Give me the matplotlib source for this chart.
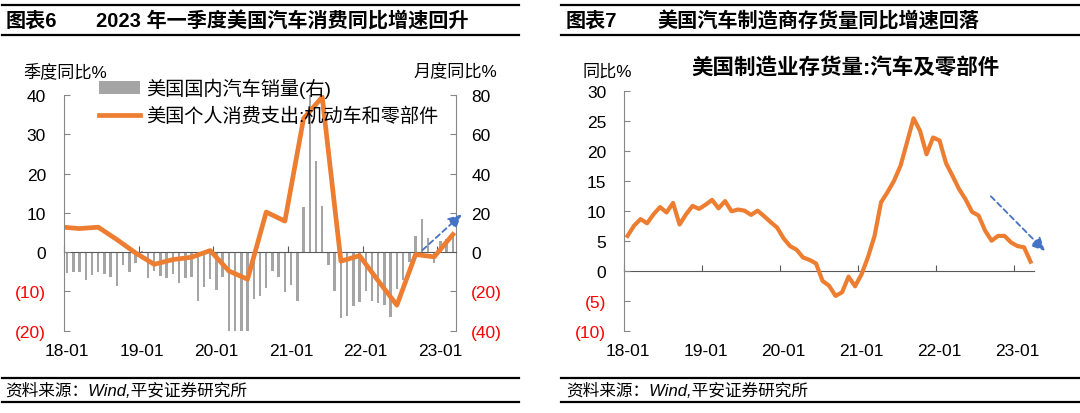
import matplotlib.pyplot as plt
import matplotlib.lines as mlines
import numpy as np
import pandas as pd

plt.rcParams['font.family'] = ['Liberation Sans', 'Noto Sans CJK SC']
plt.rcParams['axes.unicode_minus'] = False

# monthly axis: 2018-01 .. 2023-03
months = pd.period_range('2018-01', '2023-03', freq='M')
month_ticks = ['18-01', '19-01', '20-01', '21-01', '22-01', '23-01']

# 美国国内汽车销量 同比% (right axis, monthly)
auto_sales = [-10.7, -10.3, -10.3, -14.4, -11.5, -10.0, -11.0, -12.8, -17.0, -6.7, -9.9, -5.4,
              0.5, -13.0, -9.6, -12.2, -13.0, -11.3, -15.6, -13.0, -12.5, -24.9, -17.8, -13.9,
              -19.3, -12.7, -45.0, -48.0, -44.0, -42.0, -23.7, -22.5, -18.1, -9.8, -12.6, -20.4,
              -16.7, -24.9, 23.1, 110.0, 46.5, 23.4, -6.5, -19.8, -33.3, -32.5, -27.4, -25.5,
              -20.0, -25.0, -26.0, -27.0, -33.0, -19.0, -14.0, -5.0, 8.1, 16.9, 7.3, -5.5,
              5.8, 6.5, 9.0]

# 美国个人消费支出:机动车和零部件 同比% (left axis, quarterly, 2017Q4 .. 2023Q1)
pce_quarters = pd.period_range('2017Q4', '2023Q1', freq='Q')
pce_auto = [6.4, 6.0, 6.35, 3.2, -0.2, -3.1, -1.9, -1.3, 0.4, -4.8, -6.9,
            10.2, 7.9, 34.0, 39.5, -2.3, -0.9, -7.3, -13.5, -0.6, -1.2, 4.5]

# 美国制造业存货量:汽车及零部件 同比% (monthly)
inventory = [5.8, 7.5, 8.6, 7.9, 9.4, 10.6, 9.7, 11.3, 7.7, 9.4, 10.8, 10.3,
             11.0, 11.8, 10.4, 11.6, 9.9, 10.2, 10.0, 9.3, 10.0, 9.1, 8.1, 7.2,
             5.4, 4.1, 3.5, 2.2, 1.8, 1.2, -1.7, -2.5, -4.2, -3.6, -1.0, -2.6,
             -0.6, 2.3, 5.8, 11.4, 13.1, 15.0, 17.5, 21.4, 25.4, 23.3, 19.4, 22.2,
             21.7, 17.9, 15.8, 13.6, 11.9, 9.8, 9.2, 6.7, 5.0, 5.8, 5.8, 4.7,
             4.1, 3.9, 1.5]

ORANGE = '#ED7D31'
GREY = '#A5A5A5'
SPINE = '#868686'
BLUE = '#4472C4'

x = np.arange(len(months)) + 0.5
qm = pce_quarters.asfreq('M', how='end')
qx = (qm.year - 2018) * 12 + qm.month - 1 + 0.5
year_starts = np.arange(0, len(months), 12)


def paren(v):
    return f'({abs(v):g})' if v < 0 else f'{v:g}'


def set_yticks(ax, ticks, pad):
    ax.set_yticks(ticks)
    ax.set_yticklabels([paren(t) for t in ticks])
    for lab, t in zip(ax.get_yticklabels(), ticks):
        lab.set_color('red' if t < 0 else 'black')
    ax.tick_params(axis='y', direction='in', length=4, color=SPINE, pad=pad, labelsize=12.5)


def style_x(ax, zero_frac):
    ax.set_xlim(0, len(months))
    ax.set_xticks(year_starts + 0.5, month_ticks)
    ax.tick_params(axis='x', length=0, pad=9, labelsize=12.5)
    ax.spines['bottom'].set_visible(False)
    ax.spines['top'].set_visible(False)
    zero = ax.secondary_xaxis(zero_frac)
    zero.set_xticks(year_starts)
    zero.tick_params(axis='x', direction='in', length=4, color='#595959', labelbottom=False, labeltop=False)
    for s in zero.spines.values():
        s.set_color('#595959')


fig = plt.figure(figsize=(10.8, 4.14), dpi=100)


def fx(px):
    return px / 1080


def fy(py):
    return 1 - py / 414


# ---------- left chart ----------
ax1 = fig.add_axes([fx(64), fy(331.7), 392 / 1080, 235.7 / 414])
ax1r = ax1.twinx()
bars = ax1r.bar(x, auto_sales, width=0.4, color=GREY)
line, = ax1.plot(qx, pce_auto, color=ORANGE, lw=3.4)
ax1.set_zorder(ax1r.get_zorder() + 1)
ax1.patch.set_visible(False)

ax1.set_ylim(-20, 40)
ax1r.set_ylim(-40, 80)
set_yticks(ax1, [-20, -10, 0, 10, 20, 30, 40], 13)
set_yticks(ax1r, [-40, -20, 0, 20, 40, 60, 80], 11)
style_x(ax1, 1 / 3)
ax1.spines['right'].set_visible(False)
ax1.spines['left'].set_color(SPINE)
for s in ['top', 'bottom', 'left']:
    ax1r.spines[s].set_visible(False)
ax1r.spines['right'].set_color(SPINE)

ax1.legend([bars, line], ['美国国内汽车销量(右)', '美国个人消费支出:机动车和零部件'],
           loc='upper left', bbox_to_anchor=(fx(99), fy(79)), bbox_transform=fig.transFigure,
           frameon=False, fontsize=13.8, handlelength=2.15, handletextpad=0.3,
           labelspacing=0.45, borderpad=0, borderaxespad=0)

ax1.annotate('', xy=(63.9, 9.6), xytext=(57.6, 0.5), annotation_clip=False,
             arrowprops=dict(arrowstyle='-|>', color=BLUE, lw=1.3, linestyle=(0, (3, 2)),
                             mutation_scale=20, shrinkA=0, shrinkB=0))

fig.text(fx(23), fy(72), '季度同比%', fontsize=12.3, va='center', ha='left')
fig.text(fx(497), fy(72), '月度同比%', fontsize=12.3, va='center', ha='right')

# ---------- right chart ----------
ax2 = fig.add_axes([fx(624.3), fy(331.7), 409.5 / 1080, 240 / 414])
ax2.plot(x, inventory, color=ORANGE, lw=3.0)
ax2.set_ylim(-10, 30)
set_yticks(ax2, [-10, -5, 0, 5, 10, 15, 20, 25, 30], 13)
style_x(ax2, 0.25)
ax2.spines['right'].set_visible(False)
ax2.spines['left'].set_color(SPINE)

ax2.annotate('', xy=(64.7, 3.3), xytext=(56.4, 12.4), annotation_clip=False,
             arrowprops=dict(arrowstyle='-|>', color=BLUE, lw=1.3, linestyle=(0, (3, 2)),
                             mutation_scale=20, shrinkA=0, shrinkB=0))

fig.text(fx(583), fy(72), '同比%', fontsize=12.3, va='center', ha='left')
fig.text(fx(846), fy(69), '美国制造业存货量:汽车及零部件', fontsize=15.5, weight='bold',
         ha='center', va='center')

# ---------- header / footer ----------
for x0, x1 in [(2, 519), (561, 1080)]:
    for yy in [6, 36, 379, 403]:
        fig.add_artist(mlines.Line2D([fx(x0), fx(x1)], [fy(yy), fy(yy)], color='black', lw=1.6))

fig.text(fx(6), fy(21.5), '图表6', fontsize=14.5, weight='bold', va='center')
fig.text(fx(95.7), fy(21.5), '2023 年一季度美国汽车消费同比增速回升', fontsize=14.5, weight='bold', va='center')
fig.text(fx(566), fy(21.5), '图表7', fontsize=14.5, weight='bold', va='center')
fig.text(fx(657), fy(21.5), '美国汽车制造商存货量同比增速回落', fontsize=14.5, weight='bold', va='center')

fig.text(fx(5), fy(391), '资料来源：Wind,平安证券研究所', fontsize=12, style='italic', va='center')
fig.text(fx(566), fy(391), '资料来源：Wind,平安证券研究所', fontsize=12, style='italic', va='center')

fig.savefig('out.png', dpi=100)
